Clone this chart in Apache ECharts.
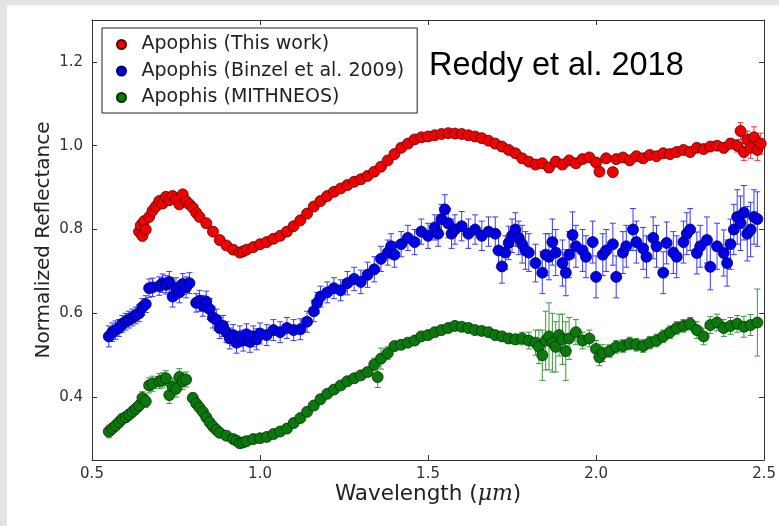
<!DOCTYPE html>
<html>
<head>
<meta charset="utf-8">
<script src="https://cdn.jsdelivr.net/npm/echarts@6/dist/echarts.min.js"></script>
<style>
  body { margin: 0; background: #e4e4e4; }
  .paper { position: absolute; left: 7px; top: 5px; right: 0; bottom: 0; background: #fff; }
  #main { position: absolute; left: 0; top: 0; width: 779px; height: 526px; }
</style>
</head>
<body>
<div class="paper"></div>
<div id="main"></div>
<script>
// [wavelength, reflectance, error]
const redPoints = [
  [0.640,0.795,.012],[0.645,0.810,.012],[0.650,0.785,.012],[0.655,0.820,.010],[0.660,0.800,.010],
  [0.670,0.830,.010],[0.680,0.845,.008],[0.690,0.855,.008],[0.700,0.868,.008],[0.710,0.862,.008],
  [0.720,0.878,.008],[0.730,0.870,.008],[0.740,0.880,.008],[0.750,0.872,.008],[0.760,0.860,.008],
  [0.770,0.884,.008],[0.780,0.868,.008],[0.790,0.860,.006],[0.800,0.852,.006],[0.810,0.840,.006],
  [0.820,0.830,.006],[0.840,0.815,.006],[0.860,0.795,.006],[0.880,0.775,.006],[0.900,0.762,.006],
  [0.920,0.752,.006],[0.940,0.745,.006],[0.950,0.748,.006],[0.960,0.752,.006],[0.980,0.758,.006],
  [1.000,0.765,.006],[1.020,0.770,.006],[1.040,0.778,.006],[1.060,0.785,.006],[1.080,0.795,.006],
  [1.100,0.808,.006],[1.120,0.822,.006],[1.140,0.838,.006],[1.160,0.855,.006],[1.180,0.868,.006],
  [1.200,0.880,.006],[1.220,0.890,.006],[1.240,0.898,.006],[1.260,0.906,.006],[1.280,0.914,.006],
  [1.300,0.920,.006],[1.320,0.928,.006],[1.340,0.938,.006],[1.360,0.950,.006],[1.380,0.965,.006],
  [1.400,0.980,.006],[1.420,0.995,.006],[1.440,1.005,.006],[1.460,1.015,.006],[1.480,1.020,.006],
  [1.500,1.022,.006],[1.520,1.025,.006],[1.540,1.028,.006],[1.560,1.030,.006],[1.580,1.029,.006],
  [1.600,1.028,.006],[1.620,1.025,.006],[1.640,1.022,.006],[1.660,1.018,.006],[1.680,1.012,.006],
  [1.700,1.005,.006],[1.720,0.998,.006],[1.740,0.990,.008],[1.760,0.982,.008],[1.780,0.970,.008],
  [1.800,0.962,.010],[1.820,0.955,.010],[1.840,0.958,.010],[1.860,0.948,.012],[1.880,0.962,.012],
  [1.900,0.955,.010],[1.920,0.965,.010],[1.940,0.958,.010],[1.960,0.968,.010],[1.980,0.972,.010],
  [2.000,0.960,.010],[2.010,0.938,.010],[2.030,0.970,.010],[2.050,0.937,.010],[2.060,0.968,.010],
  [2.080,0.972,.008],[2.100,0.965,.008],[2.120,0.975,.008],[2.140,0.970,.008],[2.160,0.978,.008],
  [2.180,0.975,.008],[2.200,0.982,.008],[2.220,0.980,.008],[2.240,0.985,.008],[2.260,0.990,.008],
  [2.280,0.985,.008],[2.300,0.995,.008],[2.320,0.992,.010],[2.340,0.998,.010],[2.360,1.000,.010],
  [2.380,0.995,.012],[2.400,1.005,.012],[2.420,1.000,.015],[2.430,1.035,.020],[2.440,0.985,.020],
  [2.450,1.015,.020],[2.460,0.995,.025],[2.470,1.020,.025],[2.480,0.990,.025],[2.490,1.005,.025]
];

const bluePoints = [
  [0.550,0.545,.025],[0.560,0.555,.022],[0.570,0.560,.022],[0.580,0.565,.020],[0.590,0.575,.020],
  [0.600,0.580,.020],[0.610,0.585,.020],[0.620,0.590,.020],[0.630,0.595,.020],[0.640,0.600,.020],
  [0.650,0.615,.020],[0.660,0.622,.020],[0.670,0.660,.022],[0.680,0.662,.022],[0.700,0.665,.022],
  [0.710,0.672,.022],[0.720,0.668,.022],[0.730,0.675,.025],[0.740,0.640,.025],[0.750,0.660,.025],
  [0.760,0.650,.025],[0.770,0.670,.025],[0.780,0.662,.025],[0.790,0.672,.025],[0.810,0.625,.022],
  [0.820,0.630,.025],[0.830,0.618,.025],[0.840,0.628,.025],[0.850,0.610,.025],[0.860,0.590,.025],
  [0.870,0.585,.025],[0.880,0.565,.025],[0.890,0.570,.025],[0.900,0.555,.025],[0.910,0.540,.025],
  [0.920,0.548,.025],[0.930,0.530,.025],[0.940,0.545,.025],[0.950,0.535,.025],[0.960,0.550,.025],
  [0.970,0.532,.025],[0.980,0.545,.025],[0.990,0.538,.025],[1.000,0.552,.025],[1.020,0.548,.025],
  [1.040,0.560,.025],[1.060,0.555,.025],[1.080,0.565,.025],[1.100,0.560,.025],[1.120,0.562,.025],
  [1.140,0.580,.025],[1.160,0.605,.025],[1.170,0.625,.025],[1.180,0.640,.025],[1.200,0.650,.025],
  [1.220,0.660,.025],[1.240,0.655,.025],[1.260,0.672,.028],[1.280,0.682,.028],[1.300,0.675,.028],
  [1.320,0.692,.030],[1.340,0.705,.030],[1.360,0.730,.030],[1.380,0.745,.030],[1.390,0.760,.030],
  [1.400,0.740,.030],[1.420,0.765,.030],[1.440,0.780,.030],[1.460,0.770,.030],[1.480,0.795,.030],
  [1.500,0.785,.030],[1.520,0.805,.030],[1.530,0.790,.030],[1.540,0.825,.035],[1.550,0.848,.035],
  [1.560,0.815,.035],[1.570,0.790,.035],[1.580,0.800,.035],[1.600,0.808,.035],[1.620,0.790,.035],
  [1.640,0.800,.035],[1.660,0.785,.035],[1.680,0.795,.035],[1.700,0.790,.040],[1.710,0.750,.040],
  [1.720,0.712,.040],[1.730,0.745,.040],[1.740,0.768,.040],[1.750,0.785,.040],[1.760,0.800,.040],
  [1.770,0.780,.040],[1.780,0.765,.045],[1.790,0.750,.045],[1.800,0.745,.045],[1.820,0.720,.045],
  [1.840,0.697,.050],[1.850,0.740,.050],[1.860,0.735,.055],[1.870,0.770,.055],[1.880,0.745,.055],
  [1.900,0.720,.055],[1.910,0.697,.055],[1.920,0.740,.055],[1.930,0.787,.055],[1.940,0.760,.050],
  [1.960,0.750,.050],[1.970,0.735,.050],[1.990,0.770,.050],[2.000,0.687,.050],[2.020,0.740,.050],
  [2.030,0.750,.050],[2.050,0.765,.050],[2.060,0.687,.050],[2.080,0.745,.050],[2.090,0.760,.050],
  [2.110,0.800,.050],[2.120,0.770,.050],[2.140,0.755,.050],[2.150,0.735,.050],[2.170,0.780,.050],
  [2.180,0.760,.050],[2.200,0.697,.050],[2.210,0.768,.050],[2.230,0.745,.050],[2.240,0.735,.050],
  [2.260,0.770,.050],[2.270,0.790,.050],[2.280,0.800,.050],[2.300,0.744,.050],[2.310,0.760,.050],
  [2.330,0.775,.055],[2.340,0.711,.055],[2.360,0.760,.055],[2.380,0.744,.055],[2.390,0.720,.055],
  [2.400,0.765,.060],[2.410,0.800,.060],[2.420,0.830,.065],[2.430,0.815,.065],[2.440,0.840,.065],
  [2.450,0.790,.065],[2.460,0.800,.065],[2.470,0.830,.065],[2.480,0.825,.065]
];

const greenPoints = [
  [0.550,0.318,.015],[0.560,0.325,.012],[0.570,0.332,.012],[0.580,0.340,.012],[0.590,0.348,.012],
  [0.600,0.352,.012],[0.610,0.358,.012],[0.620,0.365,.012],[0.630,0.372,.012],[0.640,0.380,.012],
  [0.650,0.398,.015],[0.660,0.390,.015],[0.670,0.428,.018],[0.680,0.432,.018],[0.700,0.438,.018],
  [0.710,0.440,.018],[0.720,0.445,.018],[0.730,0.405,.020],[0.740,0.425,.020],[0.750,0.420,.020],
  [0.760,0.448,.020],[0.770,0.438,.020],[0.780,0.442,.018],[0.800,0.398,.012],[0.810,0.385,.010],
  [0.820,0.375,.008],[0.830,0.365,.008],[0.840,0.352,.008],[0.850,0.340,.008],[0.860,0.330,.008],
  [0.870,0.322,.008],[0.880,0.315,.008],[0.900,0.308,.008],[0.920,0.300,.008],[0.930,0.296,.008],
  [0.940,0.290,.008],[0.950,0.292,.008],[0.960,0.295,.008],[0.980,0.300,.008],[1.000,0.302,.008],
  [1.020,0.305,.008],[1.040,0.312,.008],[1.060,0.318,.008],[1.080,0.325,.008],[1.100,0.338,.008],
  [1.120,0.350,.008],[1.140,0.365,.008],[1.160,0.380,.008],[1.180,0.395,.008],[1.200,0.408,.008],
  [1.220,0.418,.008],[1.240,0.428,.008],[1.260,0.438,.008],[1.280,0.445,.008],[1.300,0.452,.008],
  [1.320,0.460,.010],[1.340,0.478,.015],[1.350,0.448,.025],[1.360,0.492,.025],[1.380,0.505,.015],
  [1.400,0.522,.010],[1.420,0.525,.010],[1.440,0.530,.010],[1.460,0.535,.010],[1.480,0.545,.010],
  [1.500,0.548,.010],[1.520,0.555,.010],[1.540,0.560,.010],[1.560,0.565,.010],[1.580,0.570,.010],
  [1.600,0.568,.010],[1.620,0.565,.010],[1.640,0.560,.010],[1.660,0.558,.010],[1.680,0.555,.010],
  [1.700,0.548,.010],[1.720,0.545,.010],[1.740,0.540,.012],[1.760,0.538,.012],[1.780,0.540,.015],
  [1.800,0.535,.020],[1.820,0.530,.030],[1.830,0.520,.040],[1.840,0.500,.060],[1.850,0.535,.070],
  [1.860,0.545,.080],[1.870,0.530,.070],[1.880,0.520,.060],[1.890,0.548,.050],[1.900,0.538,.060],
  [1.910,0.510,.070],[1.920,0.540,.050],[1.940,0.555,.030],[1.960,0.535,.020],[1.980,0.540,.020],
  [2.000,0.515,.020],[2.010,0.495,.020],[2.020,0.505,.020],[2.040,0.510,.015],[2.060,0.520,.015],
  [2.080,0.522,.015],[2.100,0.528,.015],[2.120,0.525,.015],[2.140,0.522,.015],[2.160,0.530,.015],
  [2.180,0.535,.015],[2.200,0.545,.015],[2.220,0.555,.015],[2.240,0.565,.015],[2.260,0.570,.015],
  [2.280,0.575,.015],[2.300,0.560,.020],[2.320,0.545,.020],[2.340,0.572,.020],[2.360,0.578,.020],
  [2.380,0.565,.020],[2.400,0.570,.020],[2.420,0.575,.020],[2.440,0.568,.025],[2.460,0.572,.025],
  [2.480,0.578,.080]
];

const seriesNames = ["Apophis (This work)", "Apophis (Binzel et al. 2009)", "Apophis (MITHNEOS)"];
const xTicks = [0.5, 1.0, 1.5, 2.0, 2.5];
const yTicks = [0.4, 0.6, 0.8, 1.0, 1.2];

const chart = echarts.init(document.getElementById("main"));

// 误差棒
function errorBar(color) {
  return function (params, api) {
    const hi = api.coord([api.value(0), api.value(2)]);
    const lo = api.coord([api.value(0), api.value(1)]);
    const w = 3;
    const style = { stroke: color, lineWidth: 1 };
    return {
      type: "group",
      children: [
        { type: "line", shape: { x1: hi[0], y1: hi[1], x2: lo[0], y2: lo[1] }, style },
        { type: "line", shape: { x1: hi[0] - w, y1: hi[1], x2: hi[0] + w, y2: hi[1] }, style },
        { type: "line", shape: { x1: lo[0] - w, y1: lo[1], x2: lo[0] + w, y2: lo[1] }, style },
      ],
    };
  };
}

function makeSeries(name, points, fill, edge, barColor) {
  return [
    {
      name: name + " err",
      type: "custom",
      renderItem: errorBar(barColor),
      encode: { x: 0, y: [1, 2] },
      data: points.map((p) => [p[0], p[1] - p[2], p[1] + p[2]]),
      silent: true,
    },
    {
      name: name,
      type: "scatter",
      symbol: "circle",
      symbolSize: 11,
      data: points.map((p) => [p[0], p[1]]),
      itemStyle: { color: fill, borderColor: edge, borderWidth: 0.8, opacity: 1 },
    },
  ];
}

const axisLine = { show: true, lineStyle: { color: "#333", width: 1 } };
const tick = { show: true, inside: true, length: 5, lineStyle: { color: "#333" } };

const option = {
  animation: false,
  textStyle: { fontFamily: "DejaVu Sans" },
  grid: { left: 92, top: 20, right: 12, bottom: 66 },
  legend: {
    data: seriesNames,
    orient: "vertical",
    left: 102,
    top: 28,
    padding: [7, 13, 6, 14],
    itemWidth: 30,
    itemHeight: 9,
    itemGap: 7.5,
    borderColor: "#222",
    borderWidth: 1,
    backgroundColor: "#fff",
    textStyle: { fontSize: 19, color: "#222", lineHeight: 19, fontFamily: "DejaVu Sans" },
  },
  graphic: [
    {
      type: "text",
      left: 429,
      top: 50,
      style: { text: "Reddy et al. 2018", fontSize: 32.5, fill: "#000", fontFamily: "Liberation Sans" },
    },
  ],
  xAxis: [
    {
      type: "value",
      min: 0.5,
      max: 2.5,
      interval: 0.5,
      name: "Wavelength ({i|μm})",
      nameLocation: "middle",
      nameGap: 23,
      nameMoveOverlap: false,
      nameTextStyle: { fontSize: 21.5, color: "#222", rich: { i: { fontSize: 22, fontStyle: "italic", fontFamily: "DejaVu Serif" } } },
      axisLine: axisLine,
      axisTick: tick,
      splitLine: { show: false },
      axisLabel: { fontSize: 15, color: "#333", margin: 7, formatter: (v) => v.toFixed(1), customValues: xTicks },
    },
    {
      type: "value",
      position: "top",
      min: 0.5,
      max: 2.5,
      interval: 0.5,
      axisLine: axisLine,
      axisTick: tick,
      splitLine: { show: false },
      axisLabel: { show: false },
    },
  ],
  yAxis: [
    {
      type: "value",
      min: 0.25,
      max: 1.3,
      name: "Normalized Reflectance",
      nameLocation: "middle",
      nameGap: 38,
      nameMoveOverlap: false,
      nameTextStyle: { fontSize: 20, color: "#222" },
      axisLine: axisLine,
      axisTick: Object.assign({ customValues: yTicks }, tick),
      splitLine: { show: false },
      axisLabel: { fontSize: 15, color: "#333", margin: 9, formatter: (v) => v.toFixed(1), customValues: yTicks },
    },
    {
      type: "value",
      position: "right",
      min: 0.25,
      max: 1.3,
      axisLine: axisLine,
      axisTick: Object.assign({ customValues: yTicks }, tick),
      splitLine: { show: false },
      axisLabel: { show: false },
    },
  ],
  series: [
    ...makeSeries(seriesNames[0], redPoints, "#f00000", "#5a0000", "#ff3030"),
    ...makeSeries(seriesNames[1], bluePoints, "#0000e8", "#00005a", "#3a3aff"),
    ...makeSeries(seriesNames[2], greenPoints, "#0a780a", "#043004", "#3a9a3a"),
  ],
};

chart.setOption(option);
</script>
</body>
</html>
